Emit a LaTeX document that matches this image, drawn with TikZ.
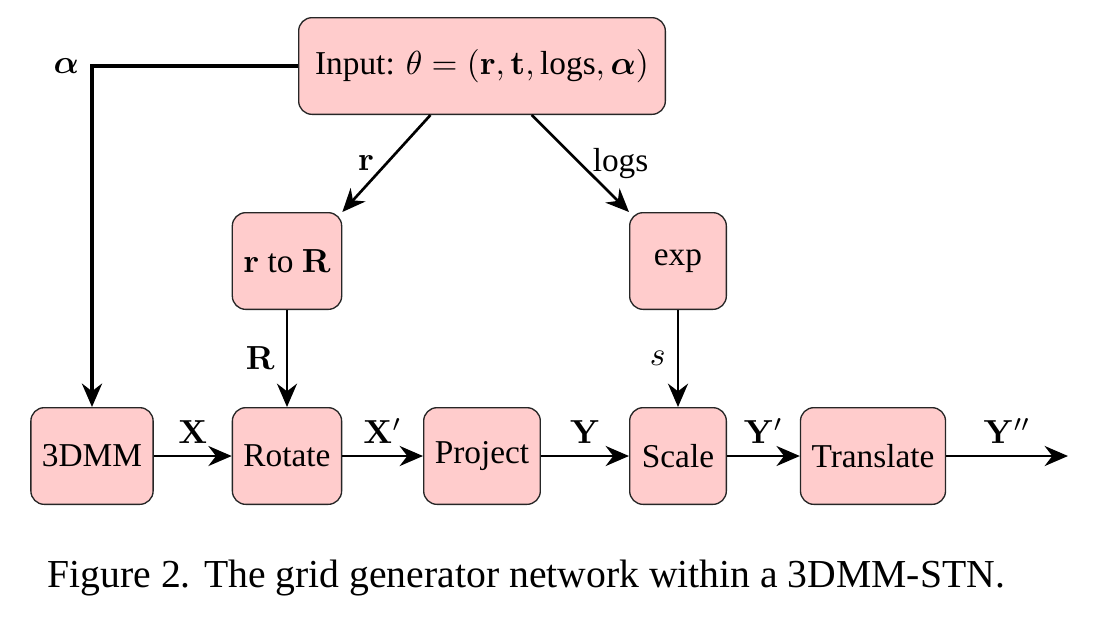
\documentclass[tikz,border=0pt]{standalone}
\usepackage{amsmath}
\usepackage[no-math]{fontspec}
\setmainfont{Liberation Serif}
\usetikzlibrary{
  positioning,
  calc,
  arrows.meta}
\definecolor{blockcolor}{RGB}{255,204,204}
\tikzset{
  %% block : a processing block of the generator
  block/.style={
    rectangle,
    rounded corners=4pt,
    draw=black!85,
    fill=blockcolor,
    minimum width=29pt,
    minimum height=29pt,
    align=center
  },
  %% flow : arrow between blocks
  flow/.style={
    -{Stealth[length=7pt,width=6pt]},
    thick
  },
  %% feed : the alpha line from the input
  feed/.style={
    -{Stealth[length=7pt,width=6pt]},
    very thick
  }
}

\begin{document}
\begin{tikzpicture}
  [x=0.3pt,
  y=-0.3pt]
  \useasboundingbox (0,0) rectangle (1100,620);

  %% input
  \node (input) [block, minimum width=110pt] at (482,66) {%
    Input: $\theta=(\mathbf{r},\mathbf{t},\text{logs},\boldsymbol{\alpha})$};

  %% middle row
  \node (rtoR) [block] at (287,261) {$\mathbf{r}$ to $\mathbf{R}$};
  \node (exp) [block] at (678,261) {exp};

  %% bottom row
  \node (dmm) [block] at (92,456) {3DMM};
  \node (rotate) [block] at (287,456) {Rotate};
  \node (project) [block] at (482,456) {Project};
  \node (scale) [block] at (678,456) {Scale};
  \node (translate) [block] at (873,456) {Translate};
  \coordinate (out) at (1068,456);


  %% Connections
  \draw [feed] (input.west) -| node (lbl_alpha) [pos=0.5, left]
    {$\boldsymbol{\alpha}$} (dmm.north);

  \draw [flow] ($(input.south west)!0.36!(input.south east)$) --
    node (lbl_r) [midway, left] {$\mathbf{r}$} (rtoR.north east);
  \draw [flow] ($(input.south west)!0.635!(input.south east)$) --
    node (lbl_logs) [midway, right] {logs} (exp.north west);

  \draw [flow] (rtoR) -- node (lbl_R) [midway, left] {$\mathbf{R}$} (rotate);
  \draw [flow] (exp) -- node (lbl_s) [midway, left] {$s$} (scale);

  \draw [flow] (dmm) -- node (lbl_X) [above] {$\mathbf{X}$} (rotate);
  \draw [flow] (rotate) -- node (lbl_Xp) [above] {$\mathbf{X}'$} (project);
  \draw [flow] (project) -- node (lbl_Y) [above] {$\mathbf{Y}$} (scale);
  \draw [flow] (scale) -- node (lbl_Yp) [above] {$\mathbf{Y}'$} (translate);
  \draw [flow] (translate) -- node (lbl_Ypp) [above] {$\mathbf{Y}''$} (out);


  %% Caption
  \node (caption) [anchor=west, inner sep=0pt] at (47,578) {%
    \fontsize{11.9}{14}\selectfont
    Figure 2. The grid generator network within a 3DMM-STN.};

\end{tikzpicture}
\end{document}
